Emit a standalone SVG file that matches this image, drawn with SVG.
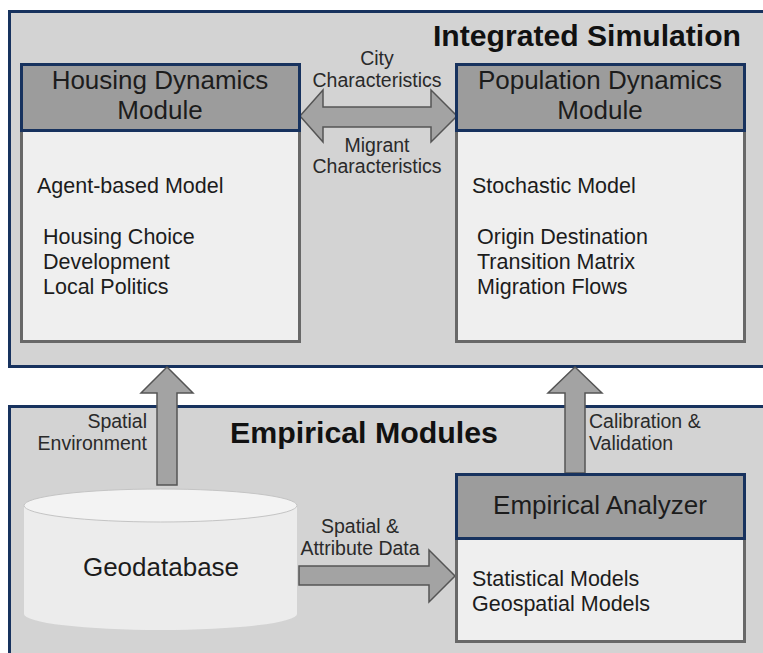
<svg xmlns="http://www.w3.org/2000/svg" width="763" height="653" viewBox="0 0 763 653">
  <style>
    .panel { fill: #d3d3d3; stroke: #17325e; stroke-width: 3; }
    .head { fill: #9c9c9c; stroke: #17325e; stroke-width: 3; }
    .body { fill: #efefef; stroke: #686868; stroke-width: 3; }
    .arrow { fill: #a3a3a3; stroke: #555555; stroke-width: 1.5; stroke-linejoin: miter; }
    text { font-family: "Liberation Sans", Arial, sans-serif; fill: #1c1c1c; }
    .title { font-size: 29px; font-weight: bold; fill: #111111; }
    .hdr { font-size: 26px; text-anchor: middle; }
    .txt { font-size: 21.5px; }
    .lbl { font-size: 19.5px; fill: #2a2a2a; }
    .mid { text-anchor: middle; }
    .end { text-anchor: end; }
  </style>

  <!-- background panels -->
  <rect width="763" height="653" fill="#ffffff"/>
  <rect id="integrated-panel" class="panel" x="9.5" y="11.5" width="770" height="355"/>
  <rect id="empirical-panel" class="panel" x="9.5" y="406.5" width="770" height="260"/>

  <text class="title" x="433" y="46" textLength="308" lengthAdjust="spacingAndGlyphs">Integrated Simulation</text>
  <text class="title" x="230" y="443" textLength="268" lengthAdjust="spacingAndGlyphs">Empirical Modules</text>

  <!-- connectors -->
  <g id="connectors">
    <!-- city / migrant characteristics exchange -->
    <polygon class="arrow" points="300,116 323,90 323,107 431,107 431,90 457,116 431,142 431,127 323,127 323,142"/>
    <!-- spatial environment -->
    <polygon class="arrow" points="167,367 193,393 177,393 177,485 157,485 157,393 141,393"/>
    <!-- calibration & validation -->
    <polygon class="arrow" points="575,367 602,393 585,393 585,473 565,473 565,393 548,393"/>
    <!-- spatial & attribute data -->
    <polygon class="arrow" points="299,566 429,566 429,550 455,576 429,602 429,585 299,585"/>

    <text class="lbl mid" x="377" y="65">City</text>
    <text class="lbl mid" x="377" y="87">Characteristics</text>
    <text class="lbl mid" x="377" y="152">Migrant</text>
    <text class="lbl mid" x="377" y="173">Characteristics</text>
    <text class="lbl end" x="147" y="428">Spatial</text>
    <text class="lbl end" x="147" y="450">Environment</text>
    <text class="lbl" x="589" y="428">Calibration &amp;</text>
    <text class="lbl" x="589" y="450">Validation</text>
    <text class="lbl mid" x="360" y="533">Spatial &amp;</text>
    <text class="lbl mid" x="360" y="555">Attribute Data</text>
  </g>

  <!-- Housing Dynamics Module -->
  <g id="housing-dynamics">
    <rect class="body" x="21.5" y="130" width="278" height="211.5"/>
    <rect class="head" x="21.5" y="64.5" width="278" height="66"/>
    <text class="hdr" x="160" y="89">Housing Dynamics</text>
    <text class="hdr" x="160" y="119">Module</text>
    <text class="txt" x="37" y="193">Agent-based Model</text>
    <text class="txt" x="43" y="244">Housing Choice</text>
    <text class="txt" x="43" y="269">Development</text>
    <text class="txt" x="43" y="294">Local Politics</text>
  </g>

  <!-- Population Dynamics Module -->
  <g id="population-dynamics">
    <rect class="body" x="456.5" y="130" width="288" height="211.5"/>
    <rect class="head" x="456.5" y="64.5" width="288" height="66"/>
    <text class="hdr" x="600" y="89">Population Dynamics</text>
    <text class="hdr" x="600" y="119">Module</text>
    <text class="txt" x="472" y="193">Stochastic Model</text>
    <text class="txt" x="477" y="244">Origin Destination</text>
    <text class="txt" x="477" y="269">Transition Matrix</text>
    <text class="txt" x="477" y="294">Migration Flows</text>
  </g>

  <!-- Empirical Analyzer -->
  <g id="empirical-analyzer">
    <rect class="body" x="456.5" y="538" width="288" height="103.5"/>
    <rect class="head" x="456.5" y="474.5" width="288" height="64"/>
    <text class="hdr" x="600" y="514">Empirical Analyzer</text>
    <text class="txt" x="472" y="586">Statistical Models</text>
    <text class="txt" x="472" y="611">Geospatial Models</text>
  </g>

  <!-- Geodatabase cylinder -->
  <g id="geodatabase">
    <path d="M24,505.5 L24,614 A136.5,16 0 0 0 297,614 L297,505.5 Z" fill="#ececec"/>
    <ellipse cx="160.5" cy="505.5" rx="136.5" ry="16.5" fill="#f3f3f3" stroke="#c4c4c4" stroke-width="1"/>
    <text class="hdr" x="161" y="576">Geodatabase</text>
  </g>
</svg>
